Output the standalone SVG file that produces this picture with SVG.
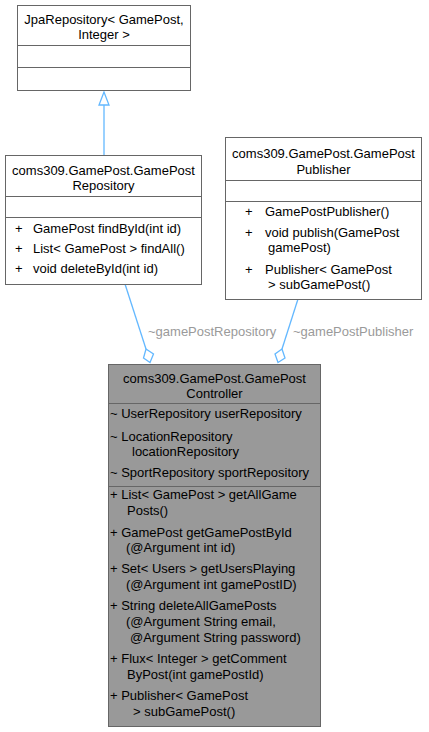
<svg xmlns="http://www.w3.org/2000/svg" width="429" height="732" viewBox="0 0 429 732">
<style>
text{font-family:"Liberation Sans",Arial,sans-serif;font-size:13px;fill:#000}
.c{text-anchor:middle}
.box{fill:#fff;stroke:#666;stroke-width:1}
.cur{fill:#999;stroke:#666;stroke-width:1}
.sep{stroke:#666;stroke-width:1}
.edge{fill:none;stroke:#63B8FF;stroke-width:1.3}
.lbl{fill:#9a9a9a}
</style>
<rect width="429" height="732" fill="#fff"/>
<g id="connectors">
<path class="edge" d="M104,155 L104,105"/>
<polygon points="104,92 99,105 109,105" fill="#fff" stroke="#63B8FF" stroke-width="1.3"/>
<path class="edge" d="M125,284 L146,349"/>
<polygon points="150,362.5 153.5,354 146,349 143.5,358" fill="#fff" stroke="#63B8FF" stroke-width="1.3"/>
<text class="lbl" x="148" y="336">~gamePostRepository</text>
<path class="edge" d="M298,299 L282,349"/>
<polygon points="278,362.5 285,358 282,349 275,354" fill="#fff" stroke="#63B8FF" stroke-width="1.3"/>
<text class="lbl" x="293" y="336">~gamePostPublisher</text>
</g>
<g id="node-jpa">
<rect class="box" x="17.5" y="5.5" width="173" height="85"/>
<path class="sep" d="M17.5,45.5 H190.5 M17.5,67.5 H190.5"/>
<text class="c" x="104" y="24">JpaRepository&lt; GamePost,</text>
<text class="c" x="104" y="39">Integer &gt;</text>
</g>
<g id="node-repository">
<rect class="box" x="5.5" y="155.5" width="196" height="129"/>
<path class="sep" d="M5.5,196.5 H201.5 M5.5,217.5 H201.5"/>
<text class="c" x="103.5" y="175">coms309.GamePost.GamePost</text>
<text class="c" x="103.5" y="190">Repository</text>
<text x="15" y="233">+</text><text x="33" y="233">GamePost findById(int id)</text>
<text x="15" y="253">+</text><text x="33" y="253">List&lt; GamePost &gt; findAll()</text>
<text x="15" y="273">+</text><text x="33" y="273">void deleteById(int id)</text>
</g>
<g id="node-publisher">
<rect class="box" x="225.5" y="137.5" width="196" height="162"/>
<path class="sep" d="M225.5,180.5 H421.5 M225.5,201.5 H421.5"/>
<text class="c" x="323.5" y="158">coms309.GamePost.GamePost</text>
<text class="c" x="323.5" y="174">Publisher</text>
<text x="245" y="216">+</text><text x="265" y="216">GamePostPublisher()</text>
<text x="245" y="237">+</text><text x="265" y="237">void publish(GamePost</text>
<text x="268" y="252">gamePost)</text>
<text x="245" y="274">+</text><text x="265" y="274">Publisher&lt; GamePost</text>
<text x="268" y="289">&gt; subGamePost()</text>
</g>
<g id="node-controller">
<rect class="cur" x="108.5" y="364.5" width="212" height="362"/>
<path class="sep" d="M108.5,403.5 H320.5 M108.5,486.5 H320.5"/>
<text class="c" x="214.5" y="383">coms309.GamePost.GamePost</text>
<text class="c" x="214.5" y="398">Controller</text>
<text x="110" y="418">~ UserRepository userRepository</text>
<text x="110" y="441">~ LocationRepository</text>
<text x="132" y="456">locationRepository</text>
<text x="110" y="477">~ SportRepository sportRepository</text>
<text x="110" y="499">+ List&lt; GamePost &gt; getAllGame</text>
<text x="127" y="515">Posts()</text>
<text x="110" y="537">+ GamePost getGamePostById</text>
<text x="126" y="552">(@Argument int id)</text>
<text x="110" y="573">+ Set&lt; Users &gt; getUsersPlaying</text>
<text x="126" y="589">(@Argument int gamePostID)</text>
<text x="110" y="610">+ String deleteAllGamePosts</text>
<text x="126" y="626">(@Argument String email,</text>
<text x="130" y="642">@Argument String password)</text>
<text x="110" y="663">+ Flux&lt; Integer &gt; getComment</text>
<text x="127" y="679">ByPost(int gamePostId)</text>
<text x="110" y="700">+ Publisher&lt; GamePost</text>
<text x="133" y="716">&gt; subGamePost()</text>
</g>
</svg>
